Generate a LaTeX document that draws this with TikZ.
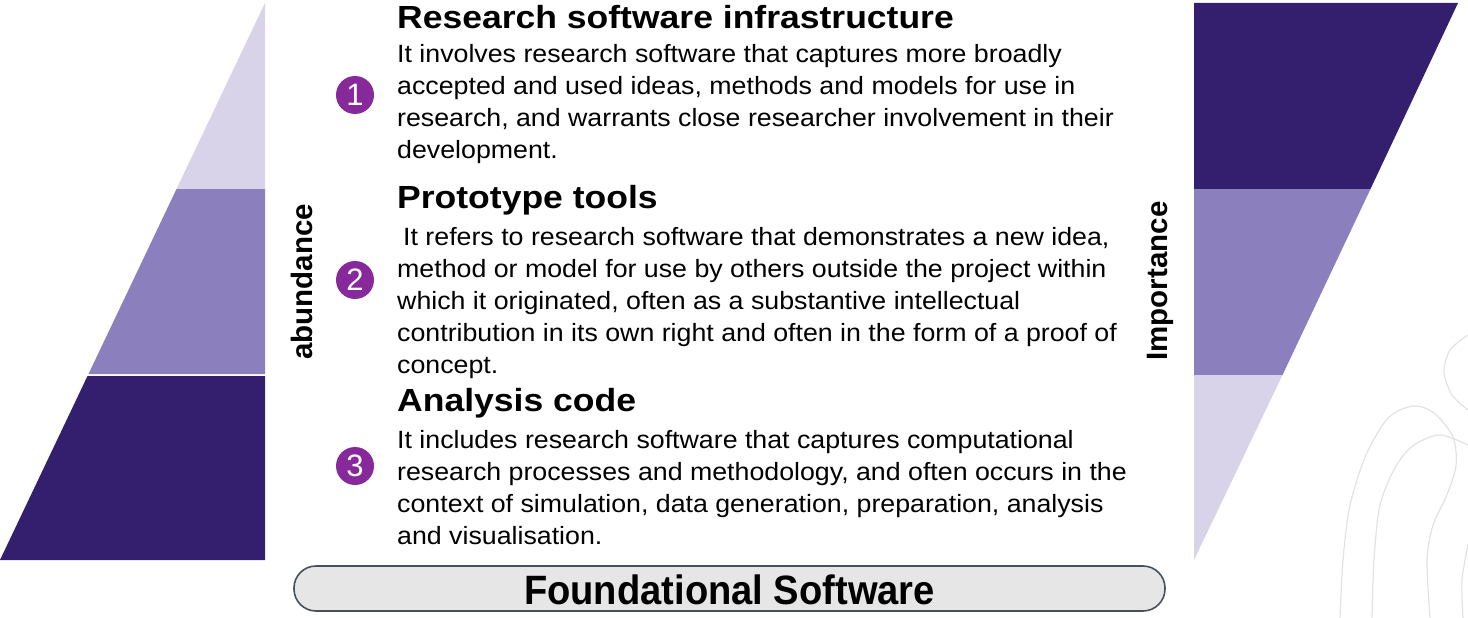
\documentclass[tikz,border=0pt]{standalone}
\usepackage{fontspec}
\setmainfont{Liberation Sans}
\newfontfamily\bodyfont[FakeStretch=1.07]{Liberation Sans}
\newfontfamily\headfont[FakeStretch=1.11]{Liberation Sans Bold}
\newfontfamily\condbold[FakeStretch=0.93]{Liberation Sans Bold}
\definecolor{bandDark}{HTML}{341E6E}
\definecolor{bandMid}{HTML}{8C7FBD}
\definecolor{bandLight}{HTML}{D8D3E8}
\definecolor{numPurple}{HTML}{87289B}
\definecolor{boxFill}{HTML}{E6E6E6}
\definecolor{boxEdge}{HTML}{46505E}
\definecolor{swirl}{HTML}{E2E2E2}
\tikzset{
  heading/.style={anchor=base west, inner sep=0pt, font=\headfont\fontsize{32}{36}\selectfont},
  bodytext/.style={anchor=base west, inner sep=0pt, font=\bodyfont\fontsize{25}{32}\selectfont},
  numdot/.style={circle, fill=numPurple, minimum size=38pt, inner sep=0pt, text=white, font=\fontsize{31}{31}\selectfont},
  sidelabel/.style={rotate=90, inner sep=0pt, font=\bfseries\fontsize{29.5}{30}\selectfont},
  basebox/.style={draw=boxEdge, line width=1.6pt, fill=boxFill, rounded corners=22pt}
}
\newcommand{\lines}[1]{\vtop{\baselineskip=32pt\lineskiplimit=-20pt #1}}
\begin{document}
\begin{tikzpicture}[x=1pt,y=-1pt]
\useasboundingbox (0,0) rectangle (1468,618);

% decorative swirl lines, lower right
\begin{scope}[swirl, line width=1.2pt]
  \draw plot[smooth] coordinates {(1468,335) (1450,350) (1444,372) (1452,395) (1468,410)};
  \draw plot[smooth] coordinates {(1340,618) (1343,560) (1350,505) (1366,455) (1388,418) (1413,406) (1434,413) (1453,437) (1456,466) (1446,497) (1433,525) (1427,560) (1430,618)};
  \draw plot[smooth] coordinates {(1372,618) (1374,560) (1380,505) (1396,466) (1414,445) (1440,435) (1468,445)};
  \draw plot[smooth] coordinates {(1463,618) (1462,580) (1468,545)};
\end{scope}

% left stack, widening downwards
\fill[bandLight] (265,3) -- (265,189) -- (176.5,189) -- cycle;
\fill[bandMid] (176.5,189) -- (265,189) -- (265,374) -- (88.5,374) -- cycle;
\fill[bandDark] (87.5,376) -- (265,376) -- (265,560) -- (0,560) -- cycle;

% right stack, narrowing downwards
\fill[bandDark] (1194,3) -- (1458,3) -- (1370.5,189) -- (1194,189) -- cycle;
\fill[bandMid] (1194,189) -- (1370.5,189) -- (1282.5,375) -- (1194,375) -- cycle;
\fill[bandLight] (1194,375) -- (1282.5,375) -- (1194,560) -- cycle;

% axis labels
\node[sidelabel] (abund) at (302,282) {abundance};
\node[sidelabel] (import) at (1160,281) {Importance};

% numbered markers
\node[numdot] (n1) at (355,95) {1};
\node[numdot] (n2) at (355,280) {2};
\node[numdot] (n3) at (355,466) {3};

% tier 1
\node[heading] (h1) at (397,29) {Research software infrastructure};
\node[bodytext] (b1) at (397,63) {\lines{%
  \hbox{It involves research software that captures more broadly}
  \hbox{accepted and used ideas, methods and models for use in}
  \hbox{research, and warrants close researcher involvement in their}
  \hbox{development.}}};

% tier 2
\node[heading] (h2) at (397,208) {Prototype tools};
\node[bodytext] (b2) at (397,245) {\lines{%
  \hbox{\hspace{6pt}It refers to research software that demonstrates a new idea,}
  \hbox{method or model for use by others outside the project within}
  \hbox{which it originated, often as a substantive intellectual}
  \hbox{contribution in its own right and often in the form of a proof of}
  \hbox{concept.}}};

% tier 3
\node[heading] (h3) at (397,411) {Analysis code};
\node[bodytext] (b3) at (397,448) {\lines{%
  \hbox{It includes research software that captures computational}
  \hbox{research processes and methodology, and often occurs in the}
  \hbox{context of simulation, data generation, preparation, analysis}
  \hbox{and visualisation.}}};

% base layer
\draw[basebox] (294,566) rectangle (1165,611);
\node[inner sep=0pt, anchor=base, font=\condbold\fontsize{41}{41}\selectfont] (found) at (729.5,604) {Foundational Software};
\end{tikzpicture}
\end{document}
